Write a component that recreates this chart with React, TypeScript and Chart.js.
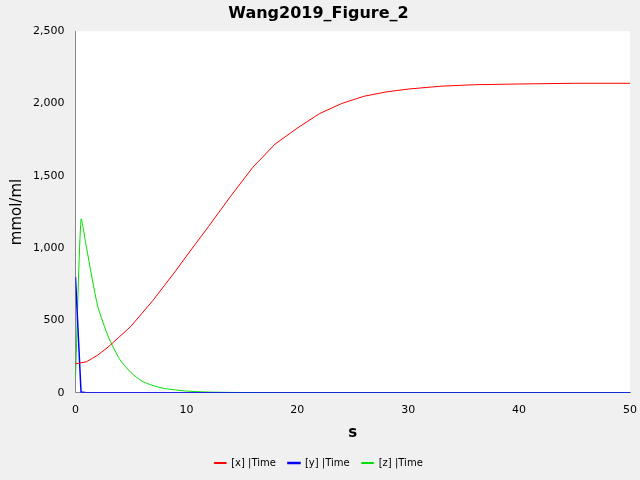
import { useEffect, useRef } from "react"
import { Chart, registerables } from "chart.js"

Chart.register(...registerables)

const xTime = [0, 1, 2, 3, 4, 5, 6, 7, 8, 9, 10, 12, 14, 16, 18, 20, 22, 24, 26, 28, 30, 33, 36, 40, 45, 50]
const xValues = [200, 215, 260, 320, 390, 460, 550, 640, 740, 840, 945, 1150, 1360, 1560, 1720, 1830, 1930, 2000, 2050, 2080, 2100, 2120, 2130, 2135, 2140, 2140]
const zTime = [0, 0.5, 1, 2, 3, 4, 5, 6, 7, 8, 9, 10, 12, 15, 20, 50]
const zValues = [100, 1200, 1000, 600, 380, 230, 140, 80, 50, 30, 20, 12, 5, 2, 0, 0]
const yTime = [0, 0.5, 1, 50]
const yValues = [800, 5, 0, 0]

const pts = (t: number[], v: number[]) => t.map((x, i) => ({ x, y: v[i] }))

const bgPlugin = {
  id: "plotBg",
  beforeDraw(chart: Chart) {
    const { ctx, chartArea } = chart
    ctx.save()
    ctx.fillStyle = "#f0f0f0"
    ctx.fillRect(0, 0, chart.width, chart.height)
    ctx.fillStyle = "#ffffff"
    ctx.fillRect(chartArea.left, chartArea.top, chartArea.right - chartArea.left, chartArea.bottom - chartArea.top)
    ctx.restore()
  },
}

export default function App() {
  const canvasRef = useRef<HTMLCanvasElement | null>(null)

  useEffect(() => {
    document.body.style.margin = "0"
    if (!canvasRef.current) return
    const chart = new Chart(canvasRef.current, {
      type: "line",
      data: {
        datasets: [
          { label: "[x] |Time", data: pts(xTime, xValues), borderColor: "#ff0000", borderWidth: 1, pointRadius: 0 },
          { label: "[y] |Time", data: pts(yTime, yValues), borderColor: "#0000ff", borderWidth: 1.5, pointRadius: 0 },
          { label: "[z] |Time", data: pts(zTime, zValues), borderColor: "#00dd00", borderWidth: 1, pointRadius: 0, tension: 0.2 },
        ],
      },
      options: {
        animation: false,
        responsive: false,
        layout: { padding: { left: 4, right: 7, top: 4, bottom: 2 } },
        scales: {
          x: {
            type: "linear",
            min: 0,
            max: 50,
            ticks: { stepSize: 10, color: "#000", font: { family: "DejaVu Sans", size: 11 } },
            grid: { display: false },
            border: { color: "#888" },
            title: { display: true, text: "s", color: "#000", font: { family: "DejaVu Sans", size: 15, weight: "bold" }, padding: { top: 4, bottom: 4 } },
          },
          y: {
            min: 0,
            max: 2500,
            ticks: { stepSize: 500, color: "#000", font: { family: "DejaVu Sans", size: 11 } },
            grid: { display: false },
            border: { color: "#888" },
            title: { display: true, text: "mmol/ml", color: "#000", font: { family: "DejaVu Sans", size: 15 } },
          },
        },
        plugins: {
          title: { display: true, text: "Wang2019_Figure_2", color: "#000", font: { family: "DejaVu Sans", size: 16, weight: "bold" }, padding: { top: 0, bottom: 8 } },
          legend: {
            position: "bottom",
            labels: { boxWidth: 12, boxHeight: 1, color: "#000", font: { family: "DejaVu Sans", size: 10 }, padding: 12 },
          },
          tooltip: { enabled: false },
        },
      },
      plugins: [bgPlugin],
    })
    return () => chart.destroy()
  }, [])

  return (
    <div style={{ width: 640, height: 480 }}>
      <canvas ref={canvasRef} width={640} height={480} style={{ display: "block" }} />
    </div>
  )
}
